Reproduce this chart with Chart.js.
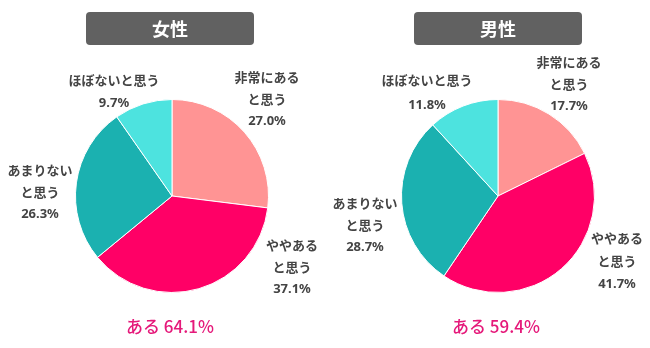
<!DOCTYPE html>
<html>
<head>
<meta charset="utf-8">
<script src="https://cdn.jsdelivr.net/npm/chart.js@4"></script>
<style>
  body { margin: 0; background: #fff; }
  .wrap { position: absolute; top: 0; width: 325px; height: 348px; }
  #w1 { left: 0; }
  #w2 { left: 325px; }
</style>
</head>
<body>
<div class="wrap" id="w1"><canvas id="femaleChart" width="325" height="348"></canvas></div>
<div class="wrap" id="w2"><canvas id="maleChart" width="325" height="348"></canvas></div>
<script>
// 回答カテゴリ（時計回り、上から）
var categories = ['非常にあると思う', 'ややあると思う', 'あまりないと思う', 'ほぼないと思う'];
var labelLines = [['非常にある', 'と思う'], ['ややある', 'と思う'], ['あまりない', 'と思う'], ['ほぼないと思う']];
var femaleValues = [27.0, 37.1, 26.3, 9.7];
var maleValues = [17.7, 41.7, 28.7, 11.8];
var femaleTotal = 'ある 64.1%';
var maleTotal = 'ある 59.4%';
var colors = ['#FF9494', '#FF0066', '#1BB1B0', '#4DE3DF'];

var FONT = '"Noto Sans CJK JP", "Noto Sans", sans-serif';

// ラベル・見出し・合計を描くプラグイン
var pieDecor = {
    id: 'pieDecor',
    afterDraw: function(chart, args, opts) {
        var ctx = chart.ctx;
        var meta = chart.getDatasetMeta(0);
        var arc0 = meta.data[0];
        var cx = arc0.x, cy = arc0.y;
        var vals = chart.data.datasets[0].data;

        ctx.save();
        // 見出しボックス
        var b = opts.box;
        ctx.fillStyle = '#616161';
        ctx.beginPath();
        ctx.roundRect(b[0], b[1], b[2], b[3], 4);
        ctx.fill();
        ctx.fillStyle = '#fff';
        ctx.font = 'bold 18px ' + FONT;
        ctx.textAlign = 'center';
        ctx.textBaseline = 'middle';
        ctx.fillText(opts.title, b[0] + b[2] / 2, b[1] + b[3] / 2 + 1);

        // スライスのラベル
        ctx.fillStyle = '#444';
        for (var i = 0; i < vals.length; i++) {
            var p = opts.labelPos[i];
            var lines = labelLines[i].concat([vals[i].toFixed(1) + '%']);
            for (var j = 0; j < lines.length; j++) {
                var y = cy + p[1] + j * opts.lineGap[i];
                if (j === lines.length - 1) {
                    ctx.font = 'bold 13px "Noto Sans", ' + FONT;
                } else {
                    ctx.font = 'bold 13px ' + FONT;
                }
                ctx.fillText(lines[j], cx + p[0], y);
            }
        }

        // 合計
        ctx.fillStyle = '#E5197A';
        ctx.font = '500 17px ' + FONT;
        ctx.fillText(opts.total, cx - 2, cy + 131);
        ctx.restore();
    }
};

function makePie(id, values, opts, padding) {
    return new Chart(document.getElementById(id).getContext('2d'), {
        type: 'pie',
        data: {
            labels: categories,
            datasets: [{
                data: values,
                backgroundColor: colors,
                borderColor: '#fff',
                borderWidth: 1
            }]
        },
        options: {
            responsive: false,
            animation: false,
            layout: { padding: padding },
            plugins: {
                legend: { display: false },
                tooltip: { enabled: false },
                pieDecor: opts
            }
        },
        plugins: [pieDecor]
    });
}

// 女性
var femaleChart = makePie('femaleChart', femaleValues, {
    title: '女性',
    total: femaleTotal,
    box: [86, 12, 168, 33],
    labelPos: [[95, -119], [120, 49], [-132, -26], [-58, -116]],
    lineGap: [22, 22, 22, 23]
}, { left: 75, right: 56, top: 99, bottom: 55 });

// 男性
var maleChart = makePie('maleChart', maleValues, {
    title: '男性',
    total: maleTotal,
    box: [89, 12, 168, 33],
    labelPos: [[71, -134], [119, 42], [-133, 7], [-71, -116]],
    lineGap: [22, 23, 22, 25]
}, { left: 76, right: 55, top: 99, bottom: 55 });
</script>
</body>
</html>
